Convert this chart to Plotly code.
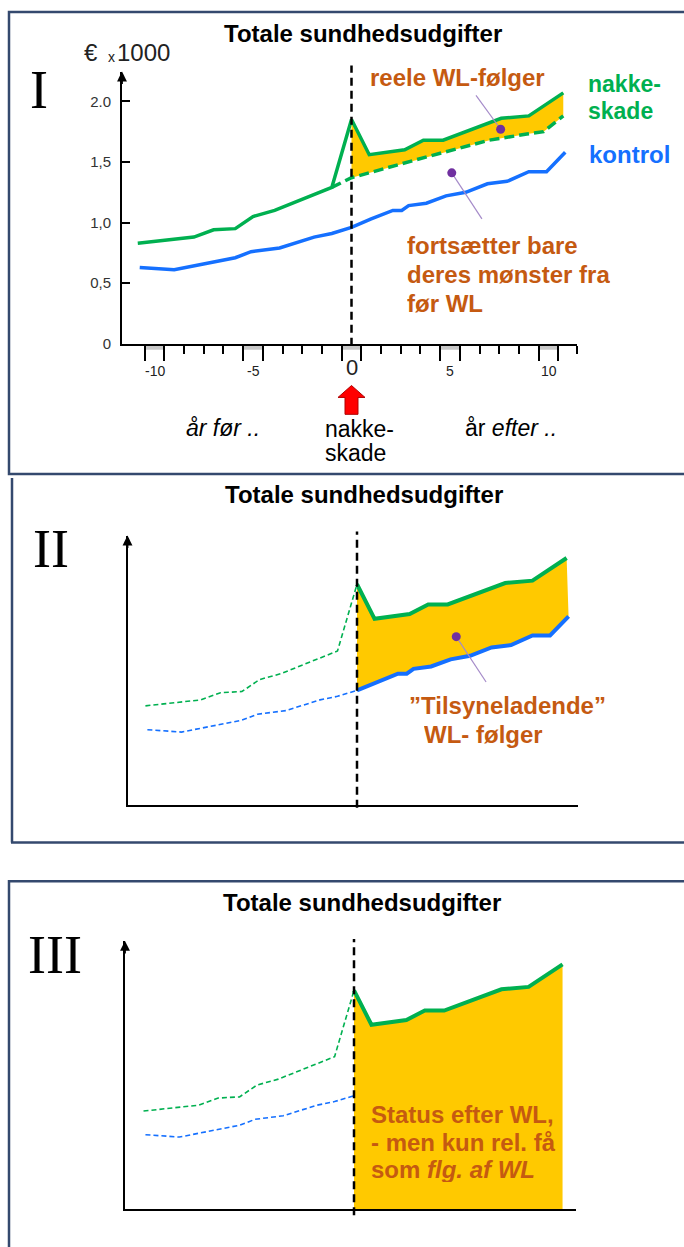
import plotly.graph_objects as go

W, H = 684, 1247

# ---------------- data ----------------
years_label_vals = [-10, -5, 0, 5, 10]
years_label_text = ["-10", "-5", "0", "5", "10"]

green_x = [-10.85, -8.0, -7.0, -5.9, -5.0, -3.9, -1.0, 0.0, 0.9, 2.7, 3.65, 4.65, 7.6, 9.0, 10.75]
green_y = [0.83, 0.88, 0.94, 0.95, 1.05, 1.10, 1.29, 1.85, 1.56, 1.60, 1.68, 1.68, 1.86, 1.88, 2.07]

blue_x = [-10.75, -9.0, -5.9, -5.1, -3.65, -1.9, -1.0, 0.0, 1.0, 2.1, 2.55, 2.9, 3.8, 4.8,
          5.8, 6.9, 7.9, 9.0, 9.9, 10.85]
blue_y = [0.63, 0.61, 0.71, 0.76, 0.79, 0.88, 0.91, 0.96, 1.03, 1.10, 1.10, 1.14, 1.16, 1.22,
          1.25, 1.32, 1.34, 1.42, 1.42, 1.58]

trend_x = [-1.0, 0.0, 4.0, 7.0, 8.9, 9.75, 10.75]
trend_y = [1.29, 1.37, 1.55, 1.68, 1.73, 1.75, 1.88]

ytick_vals = [0, 0.5, 1.0, 1.5, 2.0]
ytick_text = ["0", "0,5", "1,0", "1,5", "2.0"]

major_ticks = [-10.5, -9.5, -5.5, -4.5, -0.5, 0.5, 4.5, 5.5, 9.5, 10.5]
minor_ticks = [-8.5, -7.5, -6.5, -3.5, -2.5, -1.5, 1.5, 2.5, 3.5, 6.5, 7.5, 8.5, 11.44]
band_pairs = [(-10.5, -9.5), (-5.5, -4.5), (-0.5, 0.5), (4.5, 5.5), (9.5, 10.5)]

dot1 = ([7.57], [1.77])
dot2 = ([5.09], [1.41])
pointer1_x, pointer1_y = [6.32, 7.57], [2.05, 1.77]
pointer2_x, pointer2_y = [5.09, 6.62], [1.41, 1.03]

# ---------------- styles ----------------
GREEN = "#00B050"
BLUE = "#1570FF"
GOLD = "#FFC900"
ORANGE = "#C55A11"
PURPLE = "#7030A0"
PLINE = "#A58BC9"
BORDER = "#34496E"
FONT = "Liberation Sans, Arial, sans-serif"
SERIF = "Liberation Serif, Times New Roman, serif"


def px(x):
    return x / W


def py(y):
    return 1 - y / H


def sub(xs, ys, cond):
    pts = [(a, b) for a, b in zip(xs, ys) if cond(a)]
    return [p[0] for p in pts], [p[1] for p in pts]


gpre_x, gpre_y = sub(green_x, green_y, lambda v: v <= 0)
gpost_x, gpost_y = sub(green_x, green_y, lambda v: v >= 0)
bpre_x, bpre_y = sub(blue_x, blue_y, lambda v: v <= 0)
bpost_x, bpost_y = sub(blue_x, blue_y, lambda v: v >= 0)
tpost_x, tpost_y = sub(trend_x, trend_y, lambda v: v >= 0)

fig = go.Figure()


def line(x, y, xa, ya, color, width, dash=None, **kw):
    fig.add_trace(go.Scatter(x=x, y=y, xaxis=xa, yaxis=ya, mode="lines",
                             line=dict(color=color, width=width, dash=dash),
                             showlegend=False, hoverinfo="skip", **kw))


def dot(d, xa, ya):
    fig.add_trace(go.Scatter(x=d[0], y=d[1], xaxis=xa, yaxis=ya, mode="markers",
                             marker=dict(color=PURPLE, size=9), showlegend=False,
                             hoverinfo="skip"))


# ---------------- panel I ----------------
line(tpost_x, tpost_y, "x", "y", "rgba(0,0,0,0)", 0)
line(gpost_x, gpost_y, "x", "y", "rgba(0,0,0,0)", 0, fill="tonexty", fillcolor=GOLD)
line(trend_x, trend_y, "x", "y", GREEN, 3.5, dash="10px,5px")
line(green_x, green_y, "x", "y", GREEN, 3.5)
line(blue_x, blue_y, "x", "y", BLUE, 3.5)
line(pointer1_x, pointer1_y, "x", "y", PLINE, 1.2)
line(pointer2_x, pointer2_y, "x", "y", PLINE, 1.2)
dot(dot1, "x", "y")
dot(dot2, "x", "y")

# ---------------- panel II ----------------
line(gpre_x, gpre_y, "x2", "y2", GREEN, 1.6, dash="5px,3px")
line(bpre_x, bpre_y, "x2", "y2", BLUE, 1.6, dash="5px,3px")
line(bpost_x, bpost_y, "x2", "y2", "rgba(0,0,0,0)", 0)
line(gpost_x, gpost_y, "x2", "y2", "rgba(0,0,0,0)", 0, fill="tonexty", fillcolor=GOLD)
line(gpost_x, gpost_y, "x2", "y2", GREEN, 4)
line(bpost_x, bpost_y, "x2", "y2", BLUE, 4)
line(pointer2_x, pointer2_y, "x2", "y2", PLINE, 1.2)
dot(dot2, "x2", "y2")

# ---------------- panel III ----------------
line(gpre_x, gpre_y, "x3", "y3", GREEN, 1.6, dash="5px,3px")
line(bpre_x, bpre_y, "x3", "y3", BLUE, 1.6, dash="5px,3px")
line(gpost_x, gpost_y, "x3", "y3", GREEN, 4, fill="tozeroy", fillcolor=GOLD)

# ---------------- axes ----------------
def xr(left, right, zero, scale):
    return [(left - zero) / scale, (right - zero) / scale]


plain = dict(showgrid=False, zeroline=False, showticklabels=False, ticks="",
             showline=True, linecolor="black", linewidth=2, fixedrange=True)

ax1 = dict(plain, domain=[px(122), px(577)], range=xr(122, 577, 351.5, 19.7),
           anchor="y", tickmode="array", tickvals=major_ticks, ticks="outside",
           ticklen=15, tickwidth=1.5, tickcolor="black",
           minor=dict(tickmode="array", tickvals=minor_ticks, ticks="outside",
                      ticklen=8, tickwidth=1.5, tickcolor="black", showgrid=False))
ay1 = dict(plain, domain=[py(346), py(72)], range=[0, (346 - 72) / 122], anchor="x",
           showticklabels=True, tickmode="array", tickvals=ytick_vals, ticktext=ytick_text,
           ticks="inside", ticklen=8, tickwidth=1.5, tickcolor="black",
           tickfont=dict(family=FONT, size=15, color="#333333"), ticklabelstandoff=6)

ax2 = dict(plain, domain=[px(127.5), px(578)], range=xr(127.5, 578, 357, 19.5), anchor="y2")
ay2 = dict(plain, domain=[py(810), py(539)], range=[0, (810 - 539) / 120], anchor="x2")

ax3 = dict(plain, domain=[px(125), px(576)], range=xr(125, 576, 354, 19.4), anchor="y3")
ay3 = dict(plain, domain=[py(1217), py(947)], range=[0, (1217 - 947) / 119], anchor="x3")

# ---------------- shapes ----------------
shapes = []
# panel boxes
shapes.append(dict(type="rect", xref="paper", yref="paper", x0=px(9), x1=px(700),
                   y0=py(477), y1=py(12), line=dict(color=BORDER, width=2.5)))
shapes.append(dict(type="line", xref="paper", yref="paper", x0=px(12), x1=px(12),
                   y0=py(481), y1=py(848), line=dict(color=BORDER, width=2.5)))
shapes.append(dict(type="line", xref="paper", yref="paper", x0=px(11), x1=px(700),
                   y0=py(848), y1=py(848), line=dict(color=BORDER, width=2.5)))
shapes.append(dict(type="rect", xref="paper", yref="paper", x0=px(9), x1=px(700),
                   y0=py(1260), y1=py(887), line=dict(color=BORDER, width=2.5)))
# grey bands under panel I axis
for a, b in band_pairs:
    shapes.append(dict(type="rect", xref="x", yref="paper", x0=a, x1=b,
                       y0=py(352), y1=py(347), fillcolor="#C8C8C8", line=dict(width=0),
                       layer="below"))
# injury lines
for xa, top, bot in (("x", 66, 348), ("x2", 535, 813), ("x3", 945, 1223)):
    shapes.append(dict(type="line", xref=xa, yref="paper", x0=0, x1=0,
                       y0=py(bot), y1=py(top),
                       line=dict(color="black", width=2.5, dash="8px,5px")))
# red arrow below the 0
arrow_pts = [(351.5, 388), (365, 400), (358, 400), (358, 417), (345, 417), (345, 400), (338, 400)]
path = "M " + " L ".join(f"{px(a):.5f},{py(b):.5f}" for a, b in arrow_pts) + " Z"
shapes.append(dict(type="path", xref="paper", yref="paper", path=path,
                   fillcolor="#FF0000", line=dict(color="#B00000", width=1)))

# ---------------- annotations ----------------
ann = []


def text(t, x, y, size, color="black", xanchor="center", family=FONT, yanchor="middle",
         height=None):
    d = dict(text=t, x=px(x), y=py(y), xref="paper", yref="paper", showarrow=False,
             xanchor=xanchor, yanchor=yanchor,
             font=dict(family=family, size=size, color=color))
    if height:
        d["height"] = height
    ann.append(d)


# axis arrows (y axes)
for x, tip, length in ((122, 72, 14), (127.5, 539, 14), (125, 947, 14)):
    ann.append(dict(text="", x=px(x), y=py(tip), xref="paper", yref="paper",
                    showarrow=True, ax=0, ay=length, axref="pixel", ayref="pixel",
                    arrowhead=2, arrowsize=1.1, arrowwidth=1.8, arrowcolor="black",
                    standoff=0))

# titles
text("<b>Totale sundhedsudgifter</b>", 362.5, 34, 24)
text("<b>Totale sundhedsudgifter</b>", 364, 498, 24)
text("<b>Totale sundhedsudgifter</b>", 362, 908, 24)

# roman numerals
text("I", 38.5, 91, 54, family=SERIF)
text("II", 51, 553, 54, family=SERIF)
text("III", 55, 961, 54, family=SERIF)

# panel I labels
text("€", 82, 53, 24, "#222222", xanchor="left")
text("x", 106, 57, 14, "#222222", xanchor="left")
text("1000", 115, 53, 24, "#222222", xanchor="left")
text("<b>reele WL-følger</b>", 368, 78, 24, ORANGE, xanchor="left")
text("<b>nakke-</b>", 586, 85, 23, GREEN, xanchor="left", height=22)
text("<b>skade</b>", 586, 112, 23, GREEN, xanchor="left", height=22)
text("<b>kontrol</b>", 587, 156, 24, BLUE, xanchor="left")
text("<b>fortsætter bare</b>", 405, 247, 24, ORANGE, xanchor="left", height=27)
text("<b>deres mønster fra</b>", 405, 276, 24, ORANGE, xanchor="left", height=27)
text("<b>før WL</b>", 405, 305, 24, ORANGE, xanchor="left", height=27)

for v, t in zip(years_label_vals, years_label_text):
    big = (v == 0)
    ann.append(dict(text=t, x=v, y=py(370 if big else 373), xref="x", yref="paper",
                    showarrow=False, xanchor="center", yanchor="middle",
                    font=dict(family=FONT, size=22 if big else 14, color="#222222")))

text("<i>år før ..</i>", 223, 431, 23)
text("år <i>efter ..</i>", 511, 431, 23)
text("nakke-", 323, 432, 23, xanchor="left", height=22)
text("skade", 323, 456, 23, xanchor="left", height=22)

# panel II labels
text("<b>”Tilsyneladende”</b>", 507, 710, 24, ORANGE, height=27)
text("<b>WL- følger</b>", 483, 739, 24, ORANGE, height=27)

# panel III labels
text("<b>Status efter WL,</b>", 369, 1121, 24, ORANGE, xanchor="left", height=26)
text("<b>- men kun rel. få</b>", 369, 1149, 24, ORANGE, xanchor="left", height=26)
text("<b>som <i>flg. af WL</i></b>", 369, 1177, 24, ORANGE, xanchor="left", height=26)

fig.update_layout(
    width=W, height=H, autosize=False,
    margin=dict(l=0, r=0, t=0, b=0, pad=0),
    paper_bgcolor="white", plot_bgcolor="rgba(0,0,0,0)",
    showlegend=False,
    xaxis=ax1, yaxis=ay1, xaxis2=ax2, yaxis2=ay2, xaxis3=ax3, yaxis3=ay3,
    shapes=shapes, annotations=ann,
    font=dict(family=FONT),
)

fig.write_html("out.html", config={"displayModeBar": False},
               post_script="document.body.style.margin='0px';document.body.style.padding='0px';"
                           "document.body.style.overflow='hidden';")
